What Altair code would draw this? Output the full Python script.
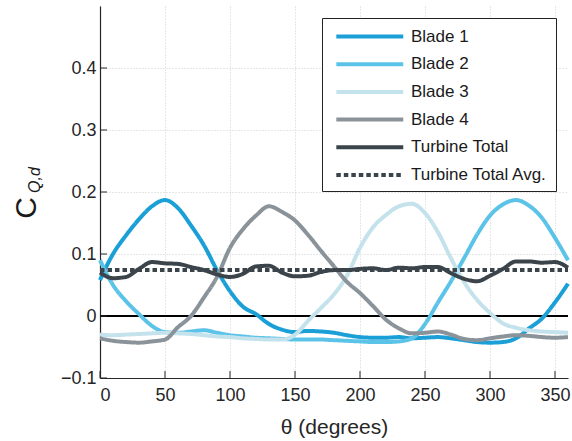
import altair as alt
import pandas as pd

# ---------------- data ----------------
theta = list(range(0, 361, 10))

blade1 = [0.058, 0.100, 0.130, 0.156, 0.177, 0.187, 0.174, 0.146, 0.114, 0.074,
          0.040, 0.015, 0.003, -0.013, -0.022, -0.026, -0.024, -0.025, -0.027, -0.031,
          -0.034, -0.035, -0.035, -0.034, -0.036, -0.035, -0.034, -0.036, -0.039, -0.042,
          -0.043, -0.042, -0.036, -0.020, -0.004, 0.022, 0.052]

blade2 = [0.090, 0.050, 0.024, 0.003, -0.016, -0.026, -0.027, -0.025, -0.023, -0.027,
          -0.031, -0.033, -0.035, -0.036, -0.037, -0.038, -0.038, -0.038, -0.039, -0.040,
          -0.041, -0.042, -0.042, -0.041, -0.036, -0.013, 0.022, 0.056, 0.093, 0.131,
          0.162, 0.180, 0.187, 0.178, 0.158, 0.126, 0.090]

blade3 = [-0.030, -0.031, -0.030, -0.029, -0.028, -0.027, -0.028, -0.029, -0.031, -0.033,
          -0.034, -0.036, -0.037, -0.038, -0.038, -0.030, -0.008, 0.013, 0.035, 0.065,
          0.110, 0.143, 0.163, 0.177, 0.181, 0.166, 0.135, 0.093, 0.055, 0.026,
          0.005, -0.012, -0.019, -0.023, -0.025, -0.026, -0.027]

blade4 = [-0.036, -0.040, -0.042, -0.043, -0.041, -0.038, -0.018, 0.000, 0.030, 0.063,
          0.110, 0.140, 0.162, 0.177, 0.168, 0.154, 0.131, 0.105, 0.080, 0.055,
          0.037, 0.016, -0.006, -0.020, -0.028, -0.027, -0.025, -0.030, -0.037, -0.039,
          -0.036, -0.033, -0.031, -0.032, -0.034, -0.035, -0.034]

total = [0.070, 0.061, 0.063, 0.076, 0.087, 0.085, 0.084, 0.079, 0.074, 0.067,
         0.063, 0.068, 0.080, 0.081, 0.070, 0.064, 0.065, 0.071, 0.074, 0.074,
         0.076, 0.077, 0.074, 0.078, 0.077, 0.079, 0.079, 0.069, 0.060, 0.056,
         0.065, 0.076, 0.088, 0.088, 0.086, 0.087, 0.078]

avg_theta = [0, 360]
avg_value = [0.074, 0.074]

series_names = ["Blade 1", "Blade 2", "Blade 3", "Blade 4",
                "Turbine Total", "Turbine Total Avg."]
series_colors = ["#1a9fd6", "#5cc3e8", "#c4e2ec", "#8a9399", "#3a444a", "#3a444a"]
series_widths = [4, 4, 4, 4, 3.5, 3]
series_dashes = [[1, 0], [1, 0], [1, 0], [1, 0], [1, 0], [4.5, 3]]

x_ticks = [0, 50, 100, 150, 200, 250, 300, 350]
y_ticks = [-0.1, 0, 0.1, 0.2, 0.3, 0.4]

# ---------------- tables ----------------
rows = []
for name, vals in zip(series_names[:5], [blade1, blade2, blade3, blade4, total]):
    for t, v in zip(theta, vals):
        rows.append({"theta": t, "value": v, "series": name})
for t, v in zip(avg_theta, avg_value):
    rows.append({"theta": t, "value": v, "series": series_names[5]})
df = pd.DataFrame(rows)

zero_df = pd.DataFrame({"value": [0]})
xt_df = pd.DataFrame({"theta": x_ticks})
yt_df = pd.DataFrame({"value": y_ticks})

W, H = 468, 372
FONT = "Liberation Sans"

xscale = alt.Scale(domain=[0, 360], nice=False, zero=False)
yscale = alt.Scale(domain=[-0.1, 0.5], nice=False, zero=False)

xaxis = alt.Axis(values=x_ticks, title="θ (degrees)", format="d", ticks=False,
                 labelPadding=8, titlePadding=12)
yaxis = alt.Axis(values=y_ticks, title=None, format="~g", ticks=False,
                 labelPadding=4)

base_x = alt.X("theta:Q", scale=xscale, axis=xaxis)
base_y = alt.Y("value:Q", scale=yscale, axis=yaxis)

zero = alt.Chart(zero_df).mark_rule(color="black", strokeWidth=2).encode(
    y=alt.Y("value:Q", scale=yscale, axis=yaxis))

lines = alt.Chart(df).mark_line(interpolate="monotone").encode(
    x=base_x,
    y=base_y,
    color=alt.Color("series:N", title=None,
                    scale=alt.Scale(domain=series_names, range=series_colors),
                    sort=series_names),
    strokeWidth=alt.StrokeWidth("series:N", title=None,
                                scale=alt.Scale(domain=series_names, range=series_widths),
                                sort=series_names),
    strokeDash=alt.StrokeDash("series:N", title=None,
                              scale=alt.Scale(domain=series_names, range=series_dashes),
                              sort=series_names),
    order=alt.Order("series:N"),
)

xticks = alt.Chart(xt_df).mark_rule(color="#262626", strokeWidth=1).encode(
    x=alt.X("theta:Q", scale=xscale, axis=xaxis),
    y=alt.value(H), y2=alt.value(H - 7))

yticks = alt.Chart(yt_df).mark_rule(color="#262626", strokeWidth=1).encode(
    y=alt.Y("value:Q", scale=yscale, axis=yaxis),
    x=alt.value(0), x2=alt.value(7))

title_c = alt.Chart(pd.DataFrame({"t": ["C"]})).mark_text(
    angle=270, font=FONT, fontSize=30, color="#1a1a1a", align="center", baseline="middle"
).encode(text="t:N", x=alt.value(-73), y=alt.value(202))

title_sub = alt.Chart(pd.DataFrame({"t": ["Q,d"]})).mark_text(
    angle=270, font=FONT, fontSize=16, fontStyle="italic", color="#1a1a1a",
    align="center", baseline="middle"
).encode(text="t:N", x=alt.value(-65), y=alt.value(174))

chart = alt.layer(zero, lines, xticks, yticks, title_c, title_sub).properties(
    width=W, height=H,
    padding={"left": 100, "top": 6, "right": 4, "bottom": 63},
    autosize=alt.AutoSizeParams(type="none"),
).configure_view(stroke=None).configure_axis(
    domainColor="#262626", domainWidth=1.2,
    gridColor="#cfcfcf", gridDash=[1, 2], gridWidth=1,
    labelFont=FONT, labelFontSize=18, labelColor="#262626",
    titleFont=FONT, titleFontSize=21, titleColor="#262626", titleFontWeight="normal",
).configure_legend(
    orient="none", legendX=222, legendY=12,
    symbolType="M-0.5,0H7.5", symbolSize=280, labelOffset=60,
    labelFont=FONT, labelFontSize=17, labelColor="#1a1a1a",
    strokeColor="#222222", fillColor="white", padding=8, rowPadding=8.7,
    cornerRadius=0, labelLimit=300,
)

chart.save("out.html", embed_options={"renderer": "svg", "actions": False})
